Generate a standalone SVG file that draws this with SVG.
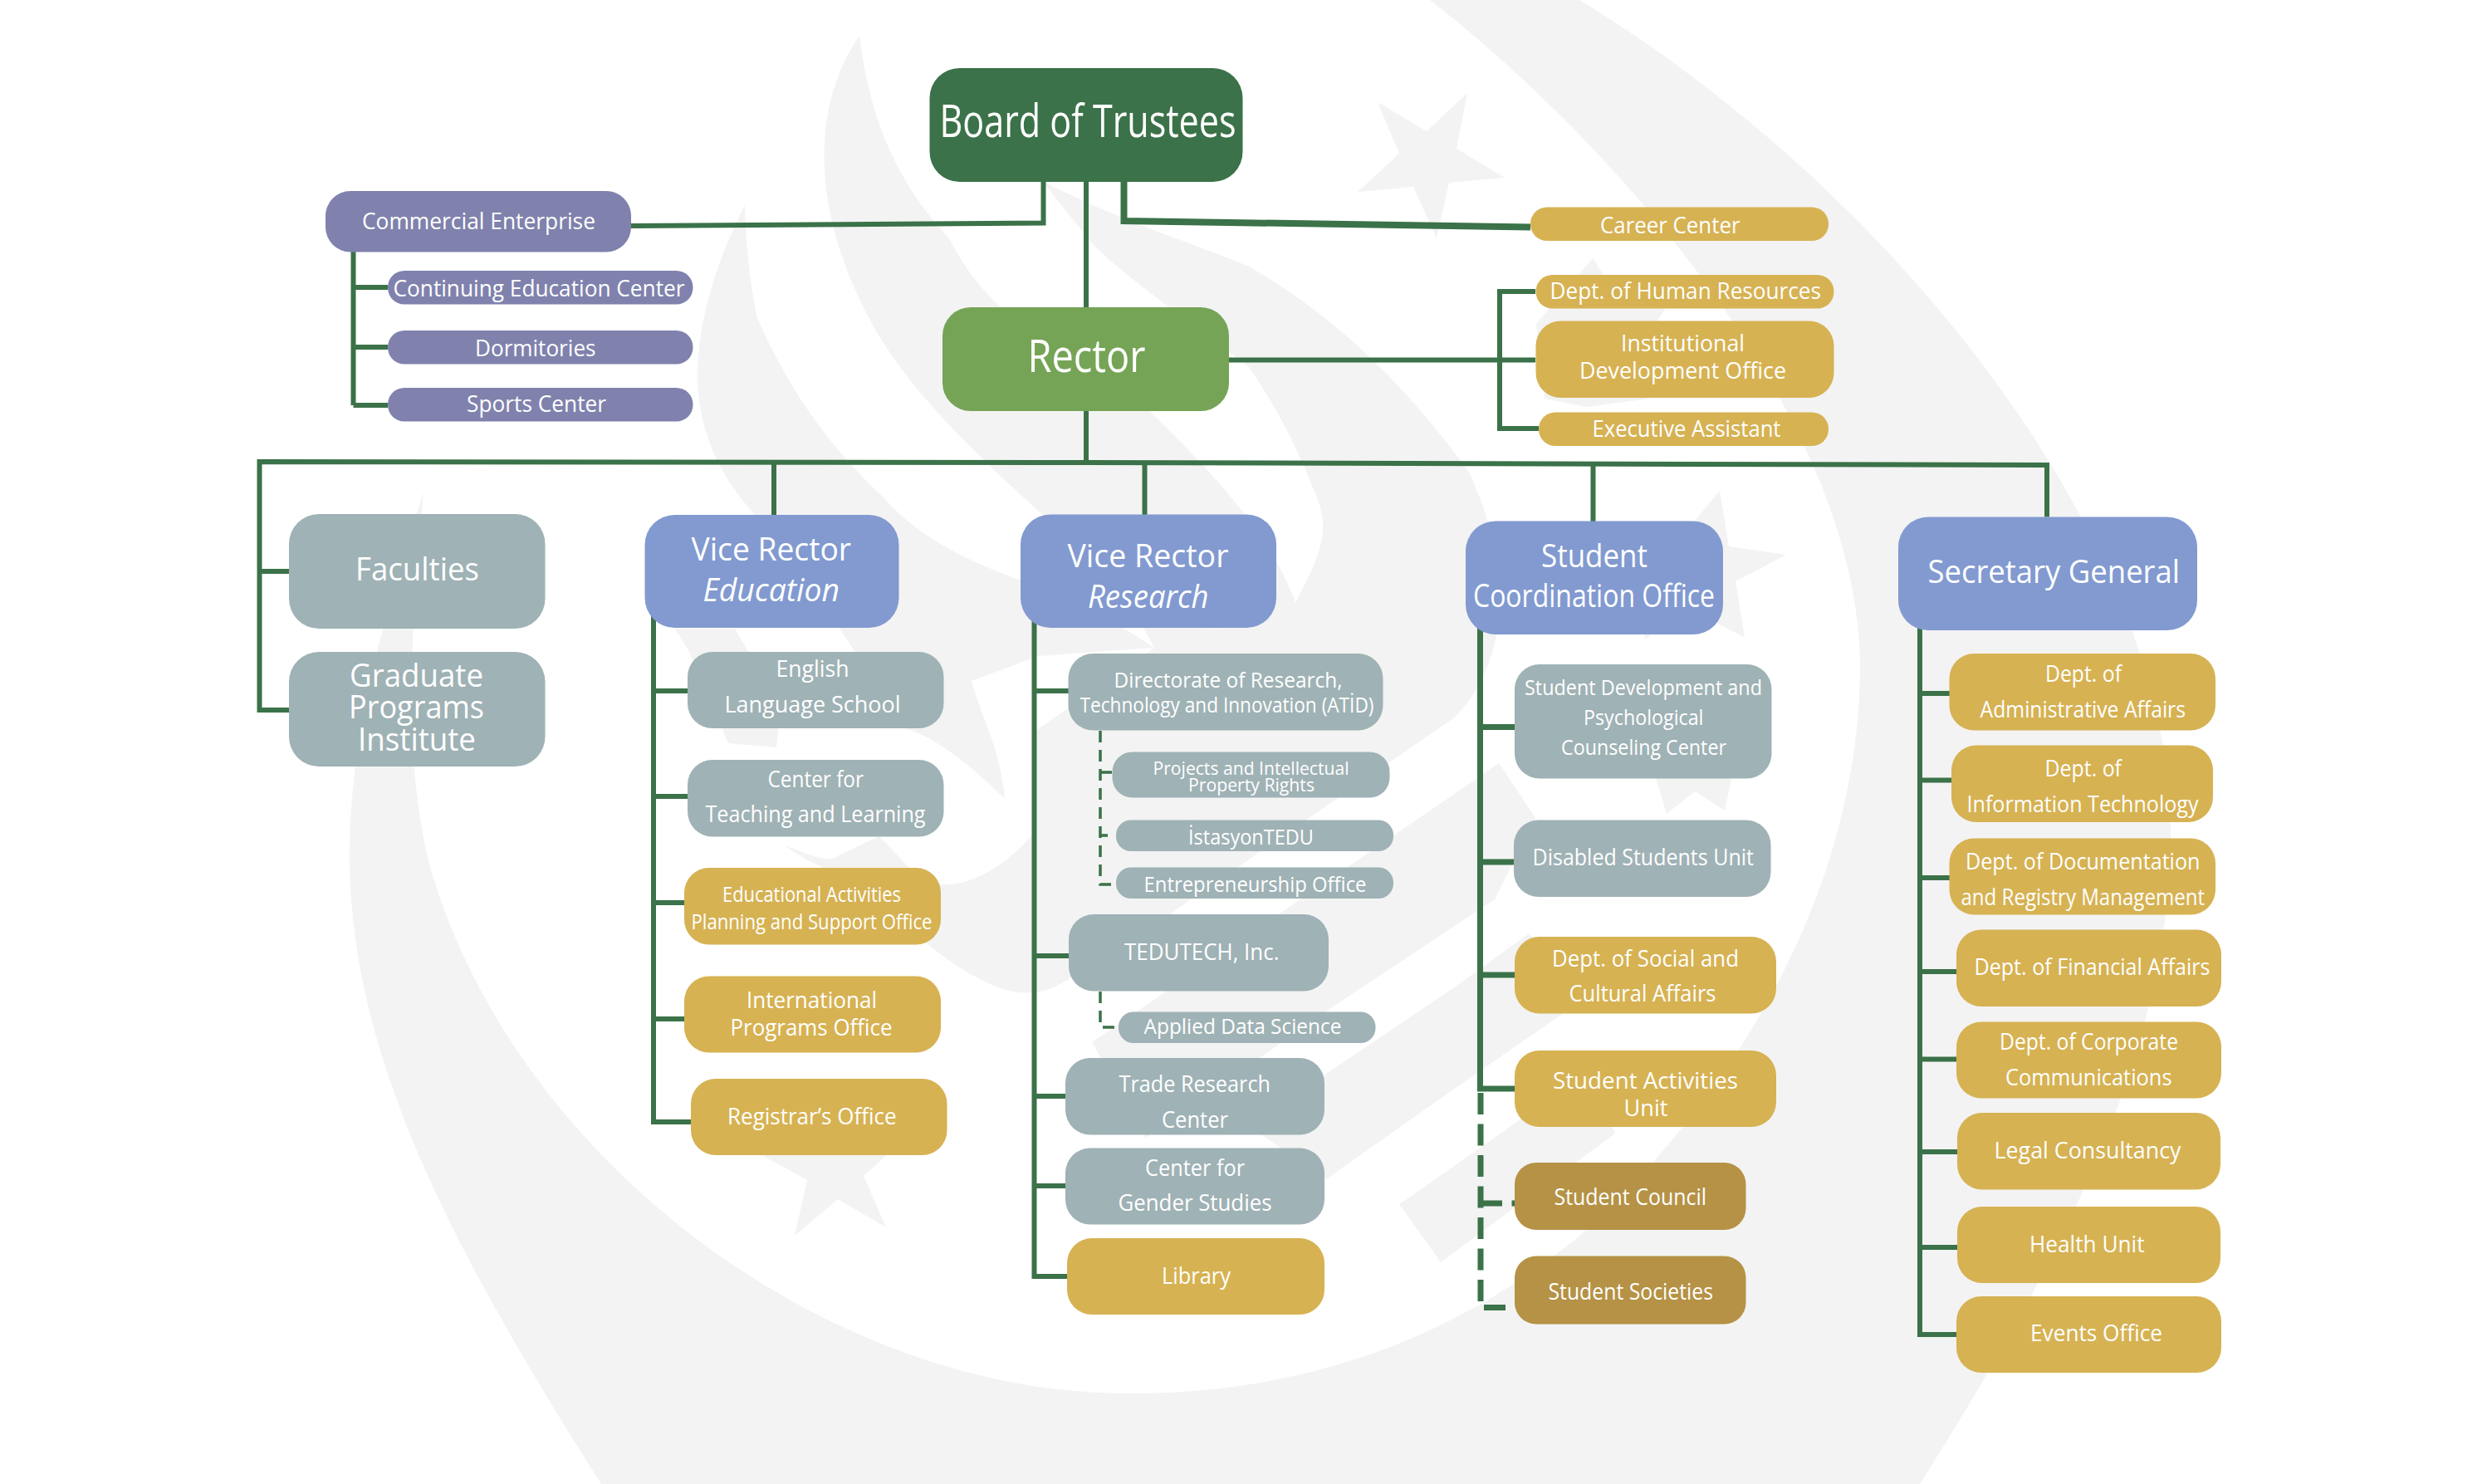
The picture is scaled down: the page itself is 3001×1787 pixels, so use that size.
<svg xmlns="http://www.w3.org/2000/svg" width="3001" height="1787" viewBox="0 0 3001 1787">
<style>
.bg{fill:#f3f3f3}
.c{fill:none;stroke:#3b7249;stroke-width:6;stroke-linejoin:miter}
.c8{fill:none;stroke:#3b7249;stroke-width:7}
.d{fill:none;stroke:#3b7249;stroke-width:3.5;stroke-dasharray:14 9}
.d2{fill:none;stroke:#3b7249;stroke-width:7;stroke-dasharray:26 11.5}
.navy{fill:#3b7249}.lime{fill:#75a457}.pur{fill:#8082ad}.blu{fill:#829ad0}.gra{fill:#9fb2b5}.gol{fill:#d6b253}.dgo{fill:#b59245}
text{font-family:"Open Sans","Noto Sans","Liberation Sans",sans-serif;fill:#fff;font-size:27px}
.xl{font-size:54px}.l{font-size:38px}.m{font-size:25px}.s{font-size:22px}.i{font-style:italic}
</style>
<rect width="3001" height="1787" fill="#fff"/>
<g id="watermark">
<path class="bg" d="M510,593C455,760 421,900 421,1030C421,1280 555,1520 724,1787L2312,1787C2500,1490 2614,1250 2614,1002C2614,650 2280,230 1902,0L1722,0C1940,170 2237,500 2240,800C2240,1080 2080,1330 1900,1490C1740,1620 1560,1678 1358,1678C1000,1678 620,1400 517,1041C490,930 490,800 510,593Z"/>
<path class="bg" d="M897,247C850,340 830,430 845,500C860,570 900,610 927,640L1000,740L1091,878C1120,885 1163,915 1210,962C1205,900 1180,860 1170,820L1250,790L1390,780C1340,745 1290,725 1227,698C1150,670 1100,640 1065,600C1000,540 950,470 912,383C905,350 898,300 897,247Z"/>
<path class="bg" d="M813,757L885,757L940,850L935,900L877,895L829,783Z"/>
<path class="bg" d="M1035,43C975,130 975,260 1057,402C1110,490 1200,570 1300,660C1340,700 1370,740 1390,780L1560,726C1530,640 1450,560 1384,494C1300,430 1200,400 1143,287C1100,241 1050,170 1035,43Z"/>
<path class="bg" d="M1255,218C1358,270 1430,290 1504,321C1625,390 1711,488 1770,570C1800,640 1815,700 1805,746C1800,790 1783,834 1750,865L1410,1100L1300,1170C1280,1185 1260,1195 1242,1195C1207,1200 1130,1165 1040,1060C1010,1055 975,1040 943,1017C975,1030 1000,1040 1010,1030L1059,1007L1097,1047C1130,1085 1200,1060 1247,1000L1247,880L1390,780L1560,726C1590,670 1600,640 1589,608C1560,530 1530,480 1504,442C1450,400 1350,330 1315,293Z"/>
<path class="bg" d="M1315,1255L1750,957L1805,919L1849,985L1800,1083L1598,1217L1380,1370Z"/>
<path class="bg" d="M1520,1367L1597,1293L1750,1190L1840,1125L1900,1160L1883,1220L1750,1312L1597,1420Z"/>
<path class="bg" d="M1685,1450L1700,1440L1828,1350L1900,1275L1945,1365L1735,1520Z"/>
<path class="bg" d="M1767,112L1754,179L1812,214L1745,220L1730,287L1702,225L1635,231L1685,185L1659,123L1718,158Z"/>
<path class="bg" d="M2071,591L2082,658L2151,668L2090,700L2101,768L2040,735L1980,770L2000,700L1950,650L2030,640Z"/>
<path class="bg" d="M1992,930L2007,980L2041,953L2077,976L2087,930L2040,870Z"/>
<path class="bg" d="M1918,311L1940,345L2005,372L1975,420L1985,480L1911,490L1860,480L1850,390Z"/>
<path class="bg" d="M919,1392L972,1421L957,1488L1009,1444L1067,1478L1040,1416L1068,1391L1000,1340Z"/>
</g>
<g id="connectors">
<path class="c" d="M1256.500,219V268.500L760,272"/>
<path class="c" d="M1308,219V370M1308,495V556"/>
<path class="c8" style="stroke-width:8" d="M1353.500,219V266L1843,273.500"/>
<path class="c" d="M1480,433.500H1849M1849,351H1806V516H1853"/>
<path class="c" d="M425.500,295V488M425.500,346H467M425.500,418H467M425.500,488H467"/>
<path class="c" d="M348,855H312.500V556L1308,557L2465,560V622.500M312.500,688H348"/>
<path class="c" d="M932,556V625M1378.500,558V625M1918.500,559V632"/>
<path class="c" d="M787,735V1351H832M787,832H828M787,959H828M787,1087H824M787,1227H824"/>
<path class="c" d="M1245.500,735V1537H1285M1245.500,832H1287M1245.500,1151H1287M1245.500,1320H1283M1245.500,1428H1283"/>
<path class="d" d="M1325,880V1065H1344M1325,930H1340M1325,1006H1334M1325,1194V1237H1347"/>
<path class="c8" d="M1782.500,745V1311H1824M1782.500,875.500H1824M1782.500,1038H1823M1782.500,1174H1824"/>
<path class="d2" d="M1783,1316V1574.500H1824M1783,1449H1824"/>
<path class="c" d="M2312,740V1607H2356M2312,835H2348M2312,939.500H2350M2312,1057H2348M2312,1170H2356M2312,1275.500H2356M2312,1387H2357M2312,1502H2357"/>
</g>
<g id="board"><rect class="navy" x="1119.500" y="82" width="377" height="137" rx="36"/><text class="xl" x="1131.500" y="165" textLength="357" lengthAdjust="spacingAndGlyphs">Board of Trustees</text></g>
<g id="rector"><rect class="lime" x="1135" y="370" width="345" height="125" rx="34"/><text class="xl" x="1237.500" y="448" textLength="142" lengthAdjust="spacingAndGlyphs">Rector</text></g>
<g id="commercial"><rect class="pur" x="392" y="230" width="368" height="73.500" rx="30"/><text x="436" y="275.500" textLength="281" lengthAdjust="spacingAndGlyphs">Commercial Enterprise</text></g>
<g id="continuing"><rect class="pur" x="467" y="326" width="367.500" height="40.500" rx="20"/><text x="473.500" y="356.500" textLength="351" lengthAdjust="spacingAndGlyphs">Continuing Education Center</text></g>
<g id="dormitories"><rect class="pur" x="467" y="398" width="367.500" height="40.500" rx="20"/><text x="572" y="428.500" textLength="145.500" lengthAdjust="spacingAndGlyphs">Dormitories</text></g>
<g id="sports"><rect class="pur" x="467" y="467" width="367.500" height="40.500" rx="20"/><text x="562" y="496" textLength="168" lengthAdjust="spacingAndGlyphs">Sports Center</text></g>
<g id="career"><rect class="gol" x="1843" y="249.500" width="359" height="40.500" rx="20"/><text x="1927" y="281" textLength="168.500" lengthAdjust="spacingAndGlyphs">Career Center</text></g>
<g id="hr"><rect class="gol" x="1849.500" y="331" width="359" height="40.500" rx="20"/><text x="1866.500" y="360" textLength="326.500" lengthAdjust="spacingAndGlyphs">Dept. of Human Resources</text></g>
<g id="institutional"><rect class="gol" x="1849.500" y="386.500" width="359" height="92.500" rx="30"/><text x="1952" y="422.500" textLength="149" lengthAdjust="spacingAndGlyphs">Institutional</text><text x="1902" y="455.500" textLength="249" lengthAdjust="spacingAndGlyphs">Development Office</text></g>
<g id="executive"><rect class="gol" x="1853" y="496.500" width="349" height="40.500" rx="20"/><text x="1917.500" y="526" textLength="227" lengthAdjust="spacingAndGlyphs">Executive Assistant</text></g>
<g id="faculties"><rect class="gra" x="348" y="619" width="308.500" height="138" rx="36"/><text class="l" x="428" y="699" textLength="149" lengthAdjust="spacingAndGlyphs">Faculties</text></g>
<g id="graduate"><rect class="gra" x="348" y="785" width="308.500" height="138" rx="36"/><text class="l" x="421" y="826.500" textLength="161" lengthAdjust="spacingAndGlyphs">Graduate</text><text class="l" x="420" y="865" textLength="163" lengthAdjust="spacingAndGlyphs">Programs</text><text class="l" x="431" y="904" textLength="142" lengthAdjust="spacingAndGlyphs">Institute</text></g>
<g id="vr-education"><rect class="blu" x="776.500" y="620" width="306" height="136" rx="36"/><text class="l" x="832.500" y="675" textLength="192.500" lengthAdjust="spacingAndGlyphs">Vice Rector</text><text class="l i" x="846.500" y="724" textLength="164.500" lengthAdjust="spacingAndGlyphs">Education</text></g>
<g id="english"><rect class="gra" x="828" y="785" width="308.500" height="92" rx="30"/><text x="934.500" y="815" textLength="88" lengthAdjust="spacingAndGlyphs">English</text><text x="872.500" y="858" textLength="212" lengthAdjust="spacingAndGlyphs">Language School</text></g>
<g id="teaching"><rect class="gra" x="828" y="915" width="308.500" height="92.500" rx="30"/><text x="924.500" y="947.500" textLength="115.500" lengthAdjust="spacingAndGlyphs">Center for</text><text x="849.500" y="990" textLength="265" lengthAdjust="spacingAndGlyphs">Teaching and Learning</text></g>
<g id="educational"><rect class="gol" x="824" y="1045" width="309" height="92.500" rx="30"/><text class="m" x="870" y="1085.500" textLength="215" lengthAdjust="spacingAndGlyphs">Educational Activities</text><text class="m" x="832.500" y="1119" textLength="290" lengthAdjust="spacingAndGlyphs">Planning and Support Office</text></g>
<g id="international"><rect class="gol" x="824" y="1175.500" width="309" height="92" rx="30"/><text x="899" y="1214" textLength="157" lengthAdjust="spacingAndGlyphs">International</text><text x="879.500" y="1246.500" textLength="195" lengthAdjust="spacingAndGlyphs">Programs Office</text></g>
<g id="registrar"><rect class="gol" x="832" y="1299" width="308.500" height="92" rx="30"/><text x="876" y="1353.500" textLength="203.500" lengthAdjust="spacingAndGlyphs">Registrar’s Office</text></g>
<g id="vr-research"><rect class="blu" x="1229" y="619.500" width="308" height="136.500" rx="36"/><text class="l" x="1285.500" y="683" textLength="194" lengthAdjust="spacingAndGlyphs">Vice Rector</text><text class="l i" x="1310" y="732" textLength="145.500" lengthAdjust="spacingAndGlyphs">Research</text></g>
<g id="directorate"><rect class="gra" x="1286.500" y="787" width="379" height="92.500" rx="30"/><text class="m" x="1341.500" y="828" textLength="275" lengthAdjust="spacingAndGlyphs">Directorate of Research,</text><text class="m" x="1300.500" y="858" textLength="354" lengthAdjust="spacingAndGlyphs">Technology and Innovation (ATİD)</text></g>
<g id="projects"><rect class="gra" x="1339.500" y="905.500" width="334" height="55" rx="24"/><text class="s" x="1388.500" y="932.500" textLength="236" lengthAdjust="spacingAndGlyphs">Projects and Intellectual</text><text class="s" x="1431" y="953" textLength="152" lengthAdjust="spacingAndGlyphs">Property Rights</text></g>
<g id="istasyon"><rect class="gra" x="1344" y="987.500" width="334" height="37.500" rx="18"/><text class="m" x="1431" y="1017" textLength="151" lengthAdjust="spacingAndGlyphs">İstasyonTEDU</text></g>
<g id="entrepreneurship"><rect class="gra" x="1344" y="1044.500" width="334" height="37.500" rx="18"/><text class="m" x="1377.500" y="1074" textLength="268" lengthAdjust="spacingAndGlyphs">Entrepreneurship Office</text></g>
<g id="tedutech"><rect class="gra" x="1287" y="1101" width="313" height="92.500" rx="30"/><text x="1354" y="1155.500" textLength="186.500" lengthAdjust="spacingAndGlyphs">TEDUTECH, Inc.</text></g>
<g id="applied"><rect class="gra" x="1347" y="1218.500" width="309.500" height="37.500" rx="18"/><text class="m" x="1377.500" y="1245" textLength="238" lengthAdjust="spacingAndGlyphs">Applied Data Science</text></g>
<g id="trade"><rect class="gra" x="1283" y="1274" width="312" height="92.500" rx="30"/><text x="1347.500" y="1315" textLength="182.500" lengthAdjust="spacingAndGlyphs">Trade Research</text><text x="1399" y="1357.500" textLength="80" lengthAdjust="spacingAndGlyphs">Center</text></g>
<g id="gender"><rect class="gra" x="1283" y="1382.500" width="312" height="92" rx="30"/><text x="1379" y="1416" textLength="120" lengthAdjust="spacingAndGlyphs">Center for</text><text x="1346.500" y="1457.500" textLength="185" lengthAdjust="spacingAndGlyphs">Gender Studies</text></g>
<g id="library"><rect class="gol" x="1285" y="1491" width="310" height="92" rx="30"/><text x="1399" y="1546" textLength="83" lengthAdjust="spacingAndGlyphs">Library</text></g>
<g id="student-coordination"><rect class="blu" x="1765" y="627.500" width="310" height="136.500" rx="36"/><text class="l" x="1856" y="682.500" textLength="128" lengthAdjust="spacingAndGlyphs">Student</text><text class="l" x="1774" y="731" textLength="291" lengthAdjust="spacingAndGlyphs">Coordination Office</text></g>
<g id="psychological"><rect class="gra" x="1824" y="800" width="309.500" height="137.500" rx="30"/><text class="m" x="1836" y="837" textLength="286" lengthAdjust="spacingAndGlyphs">Student Development and</text><text class="m" x="1907" y="873" textLength="144.500" lengthAdjust="spacingAndGlyphs">Psychological</text><text class="m" x="1880" y="909" textLength="199" lengthAdjust="spacingAndGlyphs">Counseling Center</text></g>
<g id="disabled"><rect class="gra" x="1823" y="987.500" width="309.500" height="92.500" rx="30"/><text x="1845.500" y="1042" textLength="266.500" lengthAdjust="spacingAndGlyphs">Disabled Students Unit</text></g>
<g id="social"><rect class="gol" x="1824" y="1128" width="315" height="92.500" rx="30"/><text x="1869" y="1164" textLength="225" lengthAdjust="spacingAndGlyphs">Dept. of Social and</text><text x="1889.500" y="1206" textLength="177" lengthAdjust="spacingAndGlyphs">Cultural Affairs</text></g>
<g id="activities"><rect class="gol" x="1824" y="1265" width="315" height="92" rx="30"/><text x="1870" y="1310.500" textLength="223" lengthAdjust="spacingAndGlyphs">Student Activities</text><text x="1955.500" y="1344" textLength="53" lengthAdjust="spacingAndGlyphs">Unit</text></g>
<g id="council"><rect class="dgo" x="1824" y="1400" width="278.500" height="81" rx="26"/><text x="1871.500" y="1451" textLength="183.500" lengthAdjust="spacingAndGlyphs">Student Council</text></g>
<g id="societies"><rect class="dgo" x="1824" y="1512.500" width="278.500" height="82" rx="26"/><text x="1864.500" y="1565" textLength="198.500" lengthAdjust="spacingAndGlyphs">Student Societies</text></g>
<g id="secretary"><rect class="blu" x="2286" y="622.500" width="360" height="136.500" rx="36"/><text class="l" x="2321.500" y="702" textLength="303.500" lengthAdjust="spacingAndGlyphs">Secretary General</text></g>
<g id="administrative"><rect class="gol" x="2347.500" y="787" width="320.500" height="92.500" rx="30"/><text x="2463" y="821" textLength="92" lengthAdjust="spacingAndGlyphs">Dept. of</text><text x="2384.500" y="863.500" textLength="247.500" lengthAdjust="spacingAndGlyphs">Administrative Affairs</text></g>
<g id="information"><rect class="gol" x="2350" y="897.500" width="315" height="92.500" rx="30"/><text x="2462.500" y="935" textLength="92.500" lengthAdjust="spacingAndGlyphs">Dept. of</text><text x="2368.500" y="977.500" textLength="279" lengthAdjust="spacingAndGlyphs">Information Technology</text></g>
<g id="documentation"><rect class="gol" x="2347.500" y="1009.500" width="320.500" height="92" rx="30"/><text x="2367" y="1047" textLength="282.500" lengthAdjust="spacingAndGlyphs">Dept. of Documentation</text><text x="2361.500" y="1090" textLength="293.500" lengthAdjust="spacingAndGlyphs">and Registry Management</text></g>
<g id="financial"><rect class="gol" x="2356" y="1119.500" width="319" height="92.500" rx="30"/><text x="2377.500" y="1173.500" textLength="284" lengthAdjust="spacingAndGlyphs">Dept. of  Financial Affairs</text></g>
<g id="corporate"><rect class="gol" x="2356" y="1230.500" width="319" height="92" rx="30"/><text x="2408" y="1263.500" textLength="215" lengthAdjust="spacingAndGlyphs">Dept. of Corporate</text><text x="2415" y="1307" textLength="200.500" lengthAdjust="spacingAndGlyphs">Communications</text></g>
<g id="legal"><rect class="gol" x="2357" y="1340" width="317" height="92.500" rx="30"/><text x="2401.500" y="1395" textLength="225" lengthAdjust="spacingAndGlyphs">Legal Consultancy</text></g>
<g id="health"><rect class="gol" x="2357" y="1453" width="317" height="92" rx="30"/><text x="2444" y="1508" textLength="138.500" lengthAdjust="spacingAndGlyphs">Health Unit</text></g>
<g id="events"><rect class="gol" x="2356" y="1561" width="319" height="92" rx="30"/><text x="2445" y="1614.500" textLength="159" lengthAdjust="spacingAndGlyphs">Events Office</text></g>
</svg>
